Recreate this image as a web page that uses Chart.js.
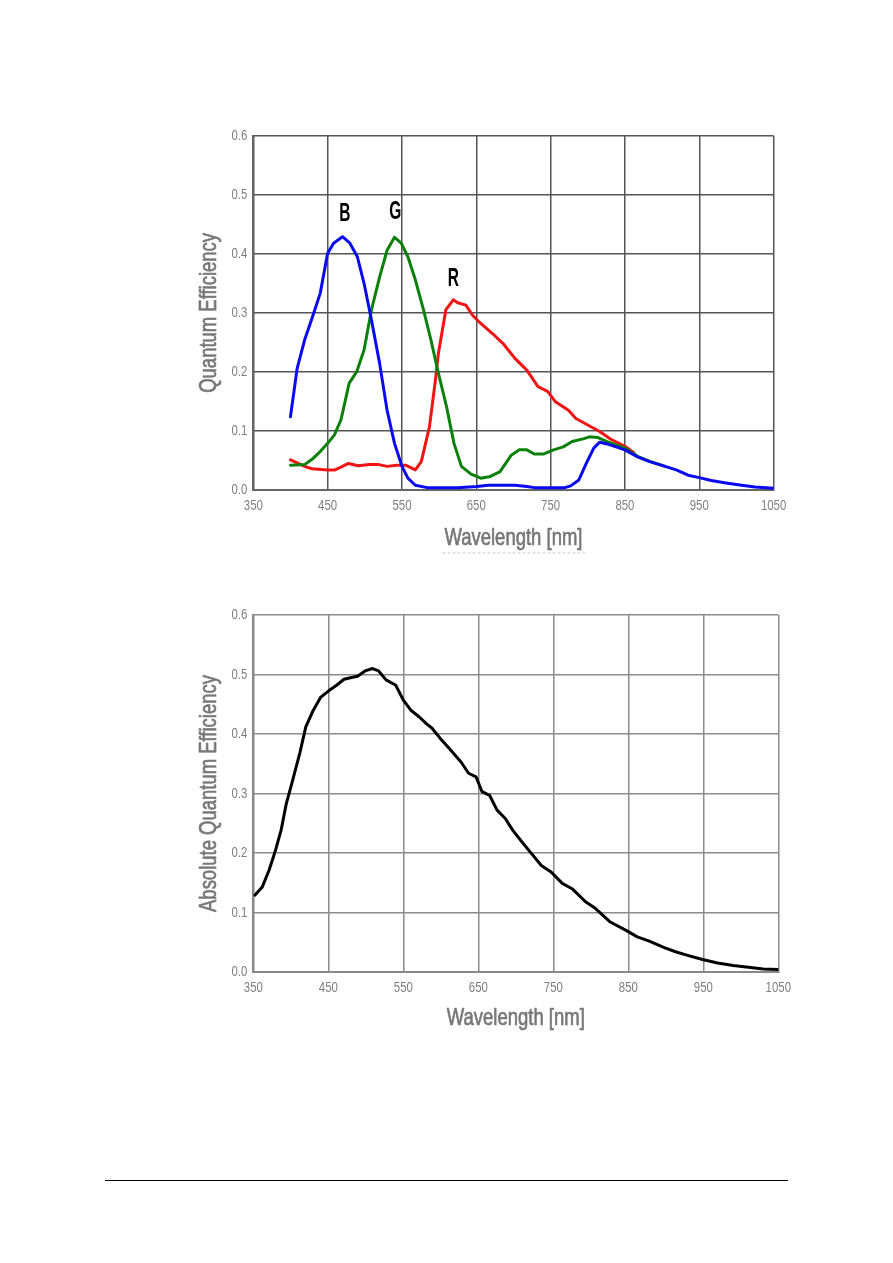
<!DOCTYPE html>
<html>
<head>
<meta charset="utf-8">
<script src="https://cdn.jsdelivr.net/npm/chart.js@4.4.1/dist/chart.umd.min.js"></script>
<style>
  html, body { margin: 0; padding: 0; background: #ffffff; }
  body { width: 893px; height: 1263px; position: relative; overflow: hidden; }
  .box { position: absolute; }
  #rule { position: absolute; left: 105px; top: 1180px; width: 683px; height: 0; border-top: 1.5px solid #000; }
</style>
</head>
<body>
<div class="box" id="w1" style="left:180px; top:115px; width:620px; height:440px;"><canvas id="c1"></canvas></div>
<div class="box" id="w2" style="left:180px; top:595px; width:620px; height:440px;"><canvas id="c2"></canvas></div>
<div id="rule"></div>
<script>
// ---------- Data ----------
const xTicks = [350, 450, 550, 650, 750, 850, 950, 1050];
const yTicks = [0.0, 0.1, 0.2, 0.3, 0.4, 0.5, 0.6];

// Chart 1: colour channels
const blueNm = [400, 409, 419, 429, 440, 450, 458, 470, 480, 490, 499, 509, 520, 530, 540, 550, 558, 568, 584, 625, 651, 666, 702, 718, 728, 769, 777, 788, 798, 808, 816, 826, 850, 867, 883, 904, 919, 935, 950, 966, 986, 1007, 1025, 1050];
const blueQE = [0.124, 0.206, 0.254, 0.291, 0.333, 0.401, 0.418, 0.429, 0.418, 0.395, 0.350, 0.288, 0.214, 0.135, 0.079, 0.040, 0.020, 0.008, 0.004, 0.004, 0.006, 0.008, 0.008, 0.006, 0.004, 0.004, 0.007, 0.017, 0.045, 0.071, 0.081, 0.078, 0.068, 0.056, 0.048, 0.040, 0.034, 0.025, 0.021, 0.016, 0.012, 0.008, 0.005, 0.003];

const greenNm = [400, 419, 429, 440, 450, 459, 468, 479, 489, 499, 509, 520, 530, 540, 549, 558, 568, 579, 589, 599, 610, 620, 630, 643, 656, 669, 682, 697, 708, 718, 728, 741, 754, 767, 779, 795, 802, 813, 826, 850, 867, 883, 904];
const greenQE = [0.042, 0.043, 0.052, 0.065, 0.079, 0.093, 0.119, 0.181, 0.200, 0.237, 0.305, 0.361, 0.406, 0.428, 0.418, 0.395, 0.356, 0.305, 0.254, 0.198, 0.141, 0.079, 0.040, 0.027, 0.020, 0.023, 0.031, 0.059, 0.068, 0.068, 0.061, 0.061, 0.068, 0.073, 0.082, 0.087, 0.090, 0.089, 0.082, 0.071, 0.057, 0.049, 0.040];

const redNm = [400, 409, 419, 429, 450, 460, 470, 478, 491, 506, 519, 530, 543, 555, 568, 576, 587, 595, 599, 609, 619, 625, 636, 645, 656, 676, 686, 702, 718, 733, 746, 756, 774, 784, 800, 816, 831, 850, 862];
const redQE = [0.051, 0.046, 0.040, 0.036, 0.034, 0.034, 0.040, 0.045, 0.041, 0.043, 0.043, 0.040, 0.042, 0.042, 0.034, 0.048, 0.107, 0.186, 0.231, 0.305, 0.322, 0.317, 0.313, 0.296, 0.282, 0.260, 0.248, 0.223, 0.203, 0.175, 0.167, 0.150, 0.135, 0.121, 0.110, 0.099, 0.086, 0.074, 0.063];

const channelNames = ['B', 'G', 'R'];
const channelLabelNm = [473, 541, 619];
const channelLabelQE = [0.467, 0.471, 0.357];

// Chart 2: absolute QE (monochrome)
const monoNm = [352, 362, 371, 379, 387, 394, 402, 412, 420, 430, 440, 451, 461, 471, 481, 489, 499, 509, 517, 527, 540, 550, 560, 571, 581, 588, 599, 611, 627, 637, 647, 655, 665, 675, 686, 696, 708, 721, 734, 747, 762, 775, 793, 806, 826, 847, 862, 878, 898, 913, 929, 949, 969, 990, 1010, 1030, 1050];
const monoQE = [0.129, 0.143, 0.171, 0.202, 0.238, 0.283, 0.320, 0.368, 0.412, 0.440, 0.462, 0.473, 0.482, 0.492, 0.495, 0.497, 0.506, 0.510, 0.506, 0.491, 0.482, 0.457, 0.440, 0.429, 0.417, 0.410, 0.393, 0.376, 0.353, 0.334, 0.328, 0.303, 0.297, 0.272, 0.258, 0.238, 0.219, 0.199, 0.179, 0.168, 0.149, 0.140, 0.118, 0.107, 0.084, 0.070, 0.059, 0.052, 0.041, 0.034, 0.028, 0.021, 0.015, 0.011, 0.008, 0.005, 0.004];

// ---------- Helpers ----------
const FONT = '"Liberation Sans", Arial, sans-serif';
function pts(xs, ys) { return xs.map((x, i) => ({ x: x, y: ys[i] })); }

// condensed text drawn on the canvas (the reference uses a condensed face)
function condensedText(ctx, text, px, py, opt) {
  ctx.save();
  ctx.translate(px, py);
  if (opt.rotate) ctx.rotate(opt.rotate);
  ctx.scale(opt.squeeze, 1);
  ctx.font = (opt.weight || 'normal') + ' ' + opt.size + 'px ' + FONT;
  ctx.fillStyle = opt.color;
  ctx.textAlign = opt.align;
  ctx.textBaseline = opt.baseline;
  ctx.fillText(text, 0, 0);
  if (opt.stroke) {
    ctx.strokeStyle = opt.color;
    ctx.lineWidth = opt.stroke;
    ctx.lineJoin = 'round';
    ctx.strokeText(text, 0, 0);
  }
  ctx.restore();
}

const axisText = {
  id: 'axisText',
  afterDraw(chart, args, o) {
    const { ctx, scales: { x, y }, chartArea: a } = chart;
    xTicks.forEach(v => condensedText(ctx, String(v), x.getPixelForValue(v), a.bottom + o.xTickDy,
      { size: 15, squeeze: 0.76, color: '#7f7f7f', align: 'center', baseline: 'middle' }));
    yTicks.forEach(v => condensedText(ctx, v.toFixed(1), a.left - 6, y.getPixelForValue(v),
      { size: 15, squeeze: 0.76, color: '#7f7f7f', align: 'right', baseline: 'middle' }));
    condensedText(ctx, o.xTitle, (a.left + a.right) / 2, a.bottom + o.xTitleDy,
      { size: 24, squeeze: 0.77, color: '#777777', align: 'center', baseline: 'alphabetic', stroke: 0.7 });
    condensedText(ctx, o.yTitle, a.left - o.yTitleDx, (a.top + a.bottom) / 2,
      { size: 24, squeeze: 0.77, color: '#777777', align: 'center', baseline: 'alphabetic', rotate: -Math.PI / 2, stroke: 0.7 });
    if (o.underline) {
      const cx = (a.left + a.right) / 2;
      ctx.save();
      ctx.strokeStyle = '#c8c8c8';
      ctx.lineWidth = 1;
      ctx.setLineDash([3, 2]);
      ctx.beginPath();
      ctx.moveTo(cx - 71, a.bottom + o.xTitleDy + 8);
      ctx.lineTo(cx + 73, a.bottom + o.xTitleDy + 8);
      ctx.stroke();
      ctx.restore();
    }
  }
};

const channelLabels = {
  id: 'channelLabels',
  afterDatasetsDraw(chart) {
    const { ctx, scales } = chart;
    channelNames.forEach((t, i) => {
      condensedText(ctx, t, scales.x.getPixelForValue(channelLabelNm[i]), scales.y.getPixelForValue(channelLabelQE[i]),
        { size: 25, squeeze: 0.62, weight: 'bold', color: '#000000', align: 'center', baseline: 'middle' });
    });
  }
};

function makeOptions(cfg) {
  return {
    responsive: true,
    maintainAspectRatio: false,
    animation: false,
    events: [],
    layout: { padding: { left: 0, top: cfg.padTop, right: cfg.padRight, bottom: 0 } },
    plugins: {
      legend: { display: false }, tooltip: { enabled: false },
      axisText: { xTitle: 'Wavelength [nm]', yTitle: cfg.yTitle, xTickDy: cfg.xTickDy, xTitleDy: cfg.xTitleDy, yTitleDx: 37.3, underline: cfg.underline }
    },
    elements: { point: { radius: 0 }, line: { tension: 0, borderWidth: 3, borderCapStyle: 'round', borderJoinStyle: 'round' } },
    scales: {
      x: {
        type: 'linear', min: xTicks[0], max: xTicks[xTicks.length - 1],
        afterBuildTicks: s => { s.ticks = xTicks.map(v => ({ value: v })); },
        afterFit: s => { s.height = cfg.xHeight; },
        grid: { color: cfg.gridColor, lineWidth: 1.5, drawTicks: false },
        border: { color: cfg.axisColor, width: 2 },
        ticks: { display: false },
        title: { display: false }
      },
      y: {
        type: 'linear', min: yTicks[0], max: yTicks[yTicks.length - 1],
        afterBuildTicks: s => { s.ticks = yTicks.map(v => ({ value: v })); },
        afterFit: s => { s.width = 73.3; },
        grid: { color: cfg.gridColor, lineWidth: 1.5, drawTicks: false },
        border: { color: cfg.axisColor, width: 2 },
        ticks: { display: false },
        title: { display: false }
      }
    }
  };
}

new Chart(document.getElementById('c1'), {
  type: 'line',
  data: {
    datasets: [
      { label: 'B', data: pts(blueNm, blueQE), borderColor: '#0a0af0', parsing: false },
      { label: 'G', data: pts(greenNm, greenQE), borderColor: '#0b800b', parsing: false },
      { label: 'R', data: pts(redNm, redQE), borderColor: '#f01414', parsing: false }
    ]
  },
  options: makeOptions({ padTop: 20.7, padRight: 26.4, xHeight: 65, xTickDy: 16, xTitleDy: 55, gridColor: '#555555', axisColor: '#666666', yTitle: 'Quantum Efficiency', underline: true }),
  plugins: [channelLabels, axisText]
});

new Chart(document.getElementById('c2'), {
  type: 'line',
  data: {
    datasets: [
      { label: 'Absolute QE', data: pts(monoNm, monoQE), borderColor: '#000000', parsing: false }
    ]
  },
  options: makeOptions({ padTop: 20, padRight: 21.7, xHeight: 63, xTickDy: 15.5, xTitleDy: 53, gridColor: '#8c8c8c', axisColor: '#888888', yTitle: 'Absolute Quantum Efficiency', underline: false }),
  plugins: [axisText]
});
</script>
</body>
</html>
